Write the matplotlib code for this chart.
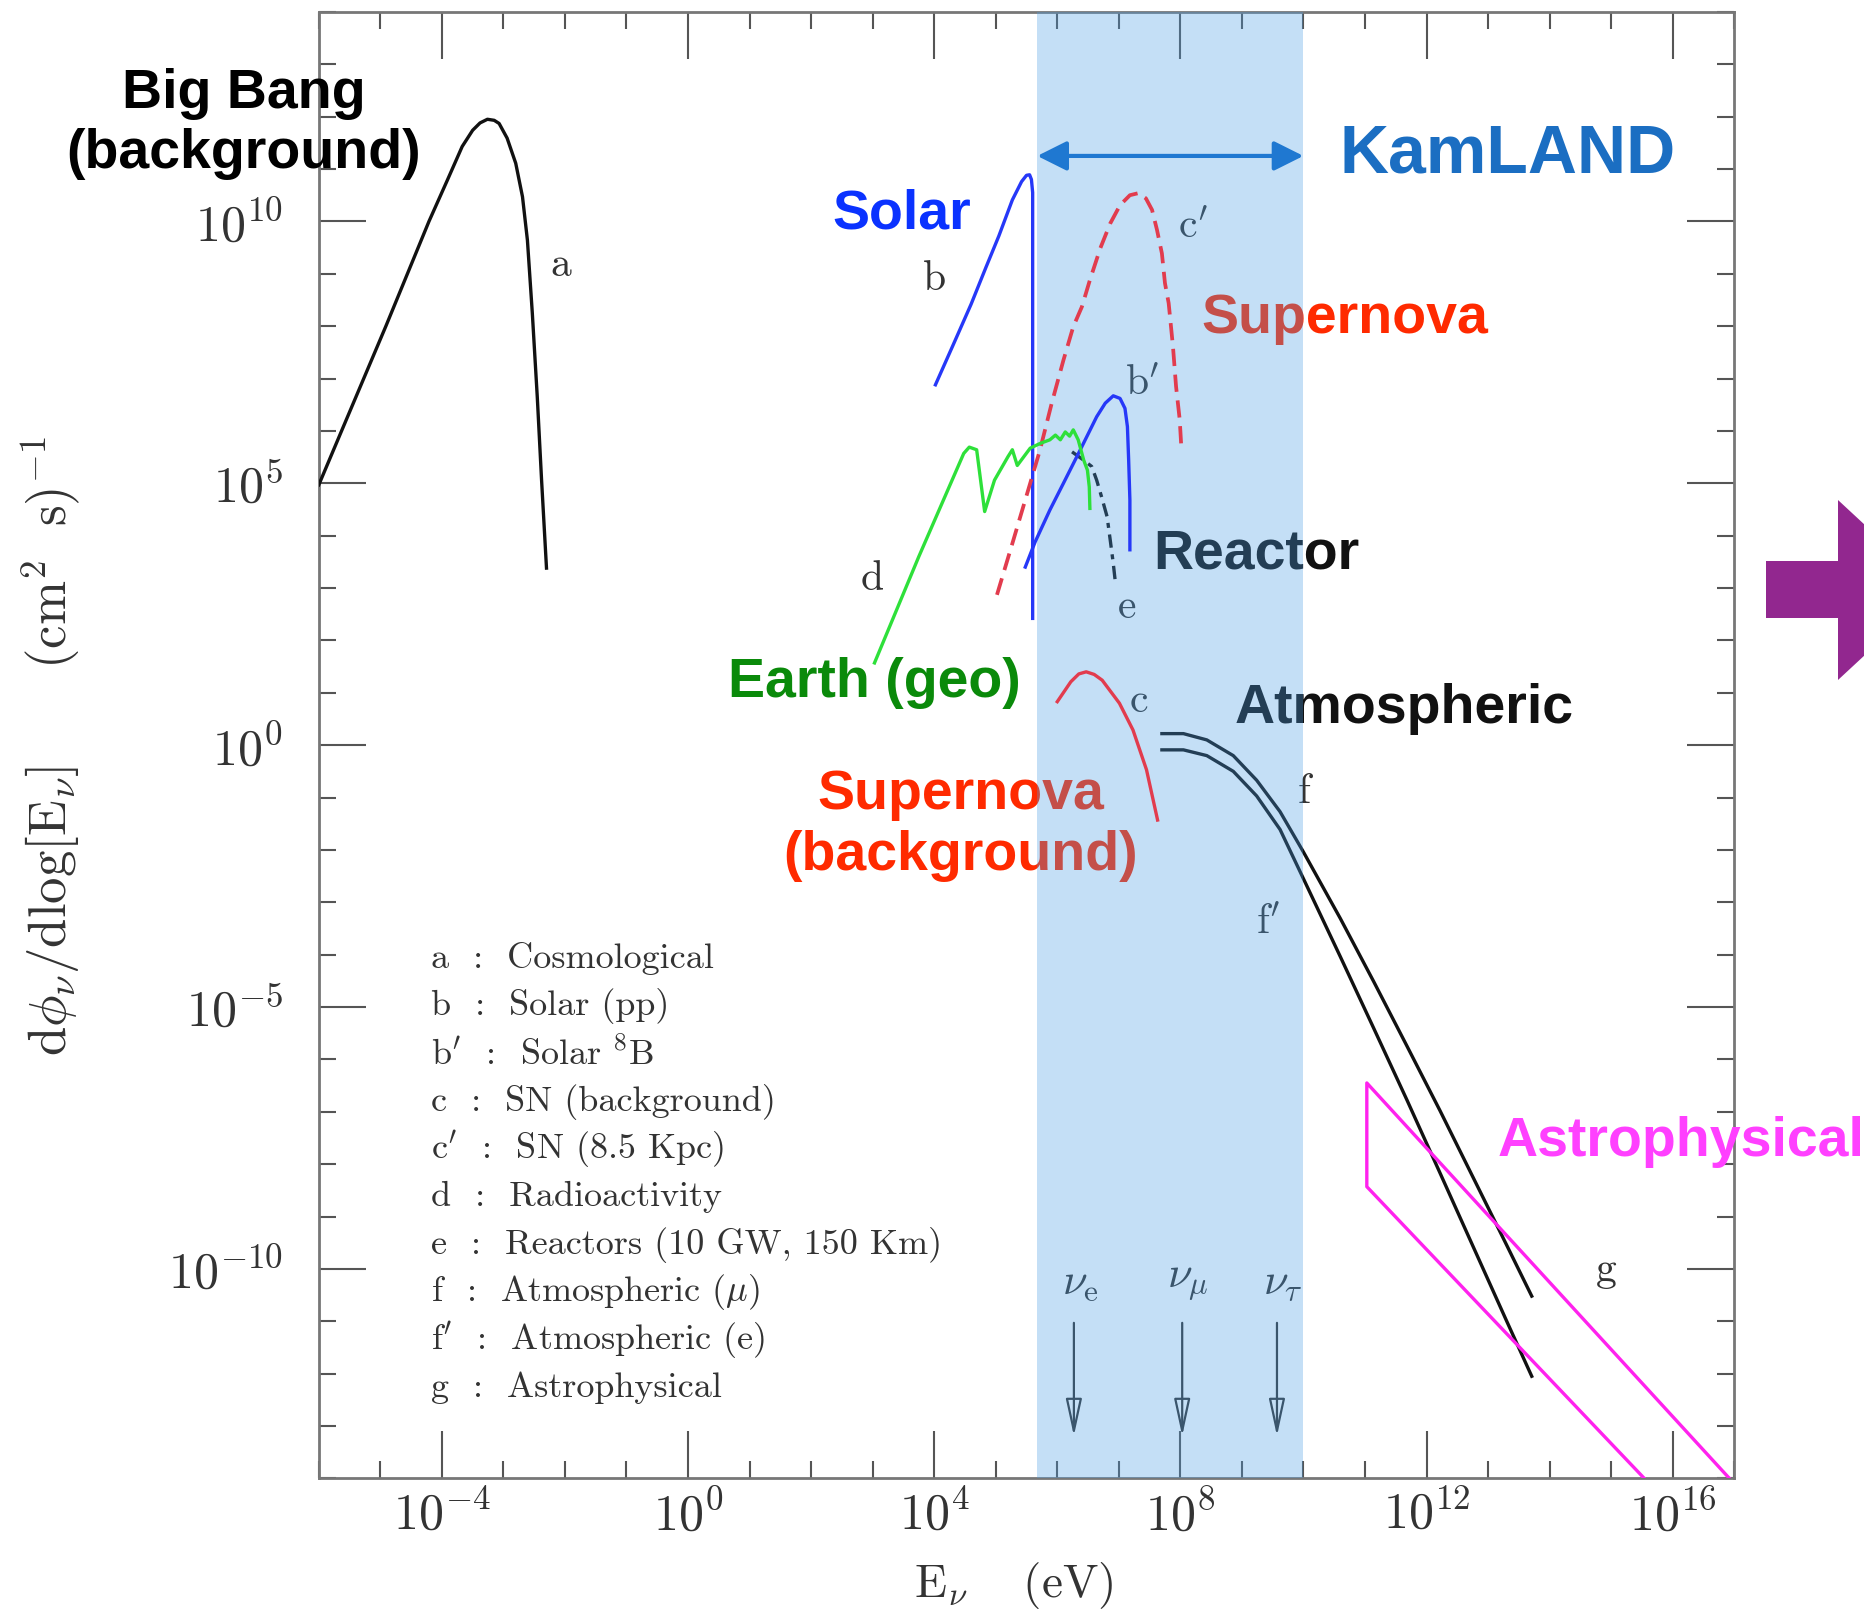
import numpy as np
import matplotlib
matplotlib.use("Agg")
import matplotlib.pyplot as plt
from matplotlib.patches import Polygon
from matplotlib.ticker import NullFormatter

plt.rcParams['mathtext.fontset'] = 'cm'

# all values are log10(E / eV) and log10(d phi / dlogE)
cosmo_logE = [-6.0, -5.63, -5.27, -4.91, -4.56, -4.21, -3.91, -3.67, -3.50, -3.38, -3.26, -3.15,
              -3.07, -2.94, -2.80, -2.69, -2.61, -2.53, -2.45, -2.38, -2.30]
cosmo_logF = [4.97, 6.0, 7.0, 8.0, 9.0, 10.0, 10.79, 11.43, 11.74, 11.88, 11.95, 11.93,
              11.87, 11.59, 11.11, 10.47, 9.64, 8.24, 6.65, 5.06, 3.38]

solar_pp_logE = [4.02, 4.30, 4.60, 4.84, 5.05, 5.27, 5.42, 5.50, 5.55, 5.58, 5.60, 5.60]
solar_pp_logF = [6.88, 7.62, 8.42, 9.12, 9.72, 10.41, 10.76, 10.88, 10.89, 10.80, 10.55, 2.42]

solar_b8_logE = [5.48, 5.64, 5.88, 6.10, 6.37, 6.64, 6.78, 6.91, 7.02, 7.10, 7.14, 7.16, 7.18, 7.18]
solar_b8_logF = [3.40, 3.88, 4.49, 5.00, 5.63, 6.27, 6.53, 6.67, 6.62, 6.43, 6.08, 5.44, 4.68, 3.73]

sn_bg_logE = [6.00, 6.22, 6.35, 6.47, 6.60, 6.73, 7.01, 7.23, 7.45, 7.63]
sn_bg_logF = [0.83, 1.21, 1.36, 1.40, 1.35, 1.24, 0.80, 0.29, -0.47, -1.43]

sn_gal_logE = [5.02, 5.27, 5.56, 5.72, 5.91, 6.10, 6.26, 6.40, 6.53, 6.70, 6.86, 7.02, 7.18,
               7.32, 7.44, 7.54, 7.62, 7.70, 7.75, 7.81, 7.88, 7.93, 7.99, 8.02]
sn_gal_logF = [2.87, 3.85, 5.00, 5.64, 6.53, 7.35, 7.99, 8.37, 8.88, 9.49, 9.96, 10.31, 10.50,
               10.54, 10.44, 10.22, 9.84, 9.39, 8.82, 8.44, 7.61, 6.85, 6.21, 5.60]

geo_logE = [3.03, 3.75, 4.48, 4.57, 4.69, 4.82, 4.98, 5.20, 5.27, 5.35, 5.56, 5.72, 5.88,
            5.97, 6.05, 6.13, 6.20, 6.26, 6.34, 6.43, 6.49, 6.52, 6.53]
geo_logF = [1.57, 3.60, 5.57, 5.69, 5.64, 4.46, 5.06, 5.51, 5.64, 5.34, 5.67, 5.76, 5.83,
            5.92, 5.83, 5.98, 5.90, 6.02, 5.83, 5.44, 5.25, 4.93, 4.52]

reactor_logE = [6.24, 6.43, 6.56, 6.64, 6.72, 6.81, 6.86, 6.91, 6.94]
reactor_logF = [5.60, 5.44, 5.32, 5.06, 4.74, 4.36, 3.92, 3.47, 3.15]

atm_mu_logE = [7.70, 8.05, 8.43, 8.86, 9.24, 9.62, 10.00, 10.60, 11.14, 11.68, 12.22, 12.76, 13.30, 13.71]
atm_mu_logF = [0.22, 0.22, 0.10, -0.20, -0.67, -1.27, -2.04, -3.31, -4.51, -5.74, -6.98, -8.26, -9.54, -10.52]

atm_e_logE = [7.70, 8.05, 8.43, 8.86, 9.24, 9.62, 10.00, 10.60, 11.14, 11.68, 12.22, 12.76, 13.30, 13.71]
atm_e_logF = [-0.09, -0.09, -0.20, -0.50, -0.97, -1.61, -2.55, -4.04, -5.40, -6.77, -8.17, -9.58, -10.99, -12.05]

astro_logE = [17.00, 11.03, 11.03, 15.62]
astro_logF = [-14.10, -6.45, -8.43, -14.10]

flavour_names = [r'$\nu_\mathrm{e}$', r'$\nu_\mu$', r'$\nu_\tau$']
flavour_logE = [6.27, 8.03, 9.57]

kamland_logE = [5.675, 10.0]

legend_lines = ["a  :  Cosmological", "b  :  Solar (pp)", r"b$^{\prime}$  :  Solar $^{8}$B",
                "c  :  SN (background)", r"c$^{\prime}$  :  SN (8.5 Kpc)", "d  :  Radioactivity",
                "e  :  Reactors (10 GW, 150 Km)", r"f  :  Atmospheric ($\mu$)",
                r"f$^{\prime}$  :  Atmospheric (e)", "g  :  Astrophysical"]

xmajor = list(range(-4, 17, 4))
ymajor = list(range(-10, 11, 5))


def p(v):
    return 10.0 ** np.asarray(v, dtype=float)


fig = plt.figure(figsize=(18.65, 16.10), dpi=100)
ax = fig.add_axes([0.17094, 0.08174, 0.75893, 0.91087])
ax.set_xscale('log')
ax.set_yscale('log')
ax.set_xlim(1e-6, 1e17)
ax.set_ylim(1e-14, 1e14)

lw = 2.4
red = '#e23c4e'
blue = '#2638f8'
# black curves sit under the KamLAND band, coloured ones above it
ax.plot(p(cosmo_logE), p(cosmo_logF), color='#111111', lw=lw, zorder=3)
ax.plot(p(reactor_logE), p(reactor_logF), color='#111111', lw=lw, dashes=(4, 2, 1.5, 2), zorder=3)
ax.plot(p(atm_mu_logE), p(atm_mu_logF), color='#111111', lw=lw, zorder=3)
ax.plot(p(atm_e_logE), p(atm_e_logF), color='#111111', lw=lw, zorder=3)
ax.plot(p(solar_pp_logE), p(solar_pp_logF), color=blue, lw=lw, zorder=5)
ax.plot(p(solar_b8_logE), p(solar_b8_logF), color=blue, lw=lw, zorder=5)
ax.plot(p(sn_bg_logE), p(sn_bg_logF), color=red, lw=lw, zorder=5)
ax.plot(p(sn_gal_logE), p(sn_gal_logF), color=red, lw=2.7, dashes=(4.6, 2.3), zorder=5)
ax.plot(p(geo_logE), p(geo_logF), color='#2ee03a', lw=lw, zorder=5)
ax.plot(p(astro_logE), p(astro_logF), color='#ff22ee', lw=lw, zorder=5)

# flavour arrows
for name, xe in zip(flavour_names, flavour_logE):
    ax.annotate('', xy=(p(xe), p(-13.19)), xytext=(p(xe), p(-11.03)),
                arrowprops=dict(arrowstyle='-|>,head_length=2.3,head_width=0.5',
                                mutation_scale=10, lw=1.6, edgecolor='#333333',
                                facecolor='none', shrinkA=0, shrinkB=0))
    ax.text(p(xe + 0.1), p(-10.25), name, fontsize=32, color='#333333',
            ha='center', va='center')

# curve letters
letters = [('a', -2.06, 9.18), ('b', 3.99, 8.91), ("c'", 8.21, 9.91), ("b'", 7.38, 6.91),
           ('d', 2.99, 3.19), ('e', 7.12, 2.65), ('c', 7.33, 0.87), ('f', 10.04, -0.87),
           ("f'", 9.42, -3.37), ('g', 14.91, -10.02)]
for s, lx, ly in letters:
    tex = r'$\mathrm{%s}%s$' % (s[0], "'" if len(s) > 1 else '')
    ax.text(p(lx), p(ly), tex, fontsize=30, color='#333333', ha='center', va='center')

# legend block
for i, line in enumerate(legend_lines):
    ax.text(p(-4.18), p(-4.075 - 0.9105 * i), line, family='cmr10', fontsize=26,
            color='#333333', ha='left', va='center')

# KamLAND window, drawn over the black curves and the labels with transparency
ax.axvspan(p(kamland_logE[0]), p(kamland_logE[1]), color='#4a9ee6', alpha=0.32, lw=0, zorder=4)
ax.annotate('', xy=(p(kamland_logE[0]), p(11.25)), xytext=(p(kamland_logE[1]), p(11.25)),
            arrowprops=dict(arrowstyle='<|-|>,head_length=1.8,head_width=0.9',
                            mutation_scale=10, lw=3, color='#1f78d1',
                            shrinkA=0, shrinkB=0), zorder=6)

bold = dict(family=['Liberation Sans', 'DejaVu Sans'], weight='bold', fontsize=40,
            ha='center', va='center', clip_on=False)
ax.text(p(-7.22), p(11.86), 'Big Bang\n(background)', color='black', linespacing=1.2, **bold)
ax.text(p(3.47), p(10.14), 'Solar', color='#0a32ff', **bold)
ax.text(p(10.68), p(8.14), 'Supernova', color='#ff2a00', **bold)
ax.text(p(9.23), p(3.64), 'Reactor', color='#111111', **bold)
ax.text(p(3.03), p(1.19), 'Earth (geo)', color='#0a8a0a', **bold)
ax.text(p(11.63), p(0.69), 'Atmospheric', color='#111111', **bold)
ax.text(p(4.43), p(-1.53), 'Supernova\n(background)', color='#ff2a00', linespacing=1.22, **bold)
ax.text(p(16.13), p(-7.57), 'Astrophysical', color='#ff40ff', **bold)
kb = dict(bold)
kb['fontsize'] = 49
ax.text(p(13.31), p(11.27), 'KamLAND', color='#1b6ec2', zorder=6, **kb)

# ticks
ax.set_xticks(p(xmajor))
ax.set_xticklabels([r'$10^{%d}$' % k for k in xmajor])
ax.set_xticks(p(range(-6, 18)), minor=True)
ax.set_yticks(p(ymajor))
ax.set_yticklabels([r'$10^{%d}$' % k for k in ymajor])
ax.set_yticks(p(range(-14, 15)), minor=True)
ax.xaxis.set_minor_formatter(NullFormatter())
ax.yaxis.set_minor_formatter(NullFormatter())
ax.tick_params(which='both', direction='in', top=True, right=True, color='#555555', labelcolor='#333333')
ax.tick_params(which='major', length=34, width=1.5, labelsize=36)
ax.tick_params(which='minor', length=12, width=1.5)
ax.tick_params(axis='x', which='major', pad=9)
ax.tick_params(axis='y', which='major', pad=26)
for s in ax.spines.values():
    s.set_color('#777777')
    s.set_linewidth(2)

ax.text(-0.1887, 0.4994,
        r'$\mathrm{d}\phi_\nu/\mathrm{dlog}[\mathrm{E}_\nu]\qquad(\mathrm{cm}^2\ \ \mathrm{s})^{-1}$',
        transform=ax.transAxes, rotation=90, fontsize=38, color='#333333', ha='center', va='center')
ax.text(0.4907, -0.073, r'$\mathrm{E}_\nu\quad\ (\mathrm{eV})$', transform=ax.transAxes,
        fontsize=34, color='#333333', ha='center', va='center')

# purple arrow at the right edge of the slide
W, H = 1865.0, 1610.0
arrow_px = [(1766, 561), (1838, 561), (1838, 500), (1935, 590), (1838, 680), (1838, 618), (1766, 618)]
fig.add_artist(Polygon([(x / W, 1 - y / H) for x, y in arrow_px], closed=True,
                       transform=fig.transFigure, color='#92278f', lw=0))

fig.savefig('out.png', dpi=100)
